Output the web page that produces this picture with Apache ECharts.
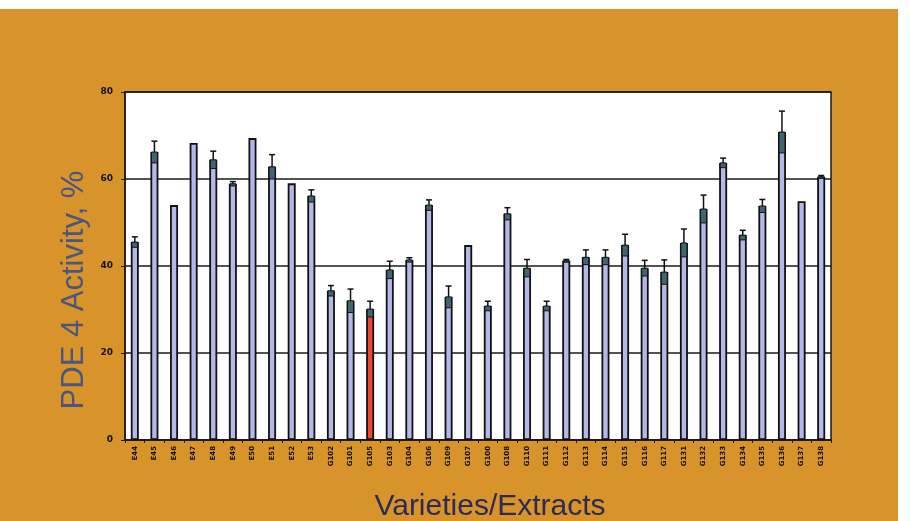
<!DOCTYPE html>
<html>
<head>
<meta charset="utf-8">
<script src="https://cdn.jsdelivr.net/npm/echarts@6/dist/echarts.min.js"></script>
<style>
  html, body { margin: 0; padding: 0; background: #fff; }
  #chart { width: 910px; height: 521px; }
</style>
</head>
<body>
<div id="chart"></div>
<script>
// Data
const varieties = [
    "E44", "E45", "E46", "E47", "E48", "E49", "E50", "E51", "E52", "E53",
    "G102", "G101", "G105", "G103", "G104", "G106", "G109", "G107", "G100", "G108",
    "G110", "G111", "G112", "G113", "G114", "G115", "G116", "G117",
    "G131", "G132", "G133", "G134", "G135", "G136", "G137", "G138"
];
const activity = [
    45.5, 66.2, 54.0, 68.3, 64.4, 58.9, 69.4, 62.8, 59.0, 56.1,
    34.3, 32.0, 30.1, 39.1, 41.4, 54.0, 32.9, 44.8, 30.8, 52.0,
    39.5, 30.8, 41.2, 42.0, 42.0, 44.8, 39.5, 38.6,
    45.3, 53.1, 63.7, 47.1, 53.8, 70.8, 54.9, 60.5
];
const errors = [
    1.2, 2.5, 0, 0, 2.0, 0.5, 0, 2.8, 0, 1.4,
    1.2, 2.7, 1.8, 2.0, 0.5, 1.2, 2.5, 0, 1.1, 1.4,
    2.0, 1.1, 0.3, 1.7, 1.7, 2.5, 1.8, 2.8,
    3.2, 3.2, 1.1, 1.1, 1.5, 4.8, 0, 0.3
];
const highlightIndex = 12;
const yTicks = [0, 20, 40, 60, 80];

const chart = echarts.init(document.getElementById("chart"));

const barData = activity.map(function(v, i) {
    return {
        value: v,
        itemStyle: i === highlightIndex ? { color: "#ec4632" } : undefined
    };
});

const option = {
    backgroundColor: "#ffffff",
    animation: false,
    graphic: [{
        type: "rect",
        z: -10,
        shape: { x: 0, y: 9, width: 898, height: 512 },
        style: { fill: "#d8942a" }
    }],
    grid: {
        left: 125, top: 92, right: 79, bottom: 81,
        outerBoundsMode: "none",
        show: true,
        backgroundColor: "#ffffff",
        borderColor: "#1a1a1a",
        borderWidth: 1.5
    },
    xAxis: {
        type: "category",
        data: varieties,
        name: "Varieties/Extracts",
        nameLocation: "middle",
        nameGap: 52,
        nameTextStyle: {
            fontFamily: "Liberation Sans", fontSize: 30, color: "#2b2b55",
            padding: [0, 0, 0, 24]
        },
        axisLine: { lineStyle: { color: "#1a1a1a", width: 1.5 } },
        axisTick: { show: true, length: 3, lineStyle: { color: "#1a1a1a" } },
        axisLabel: {
            rotate: 90,
            interval: 0,
            margin: 6,
            fontFamily: "DejaVu Sans",
            fontWeight: "bold",
            fontSize: 7,
            color: "#111"
        }
    },
    yAxis: {
        type: "value",
        min: 0,
        max: 80,
        interval: 20,
        name: "PDE 4 Activity, %",
        nameLocation: "middle",
        nameGap: 35,
        nameTextStyle: {
            fontFamily: "Liberation Sans", fontSize: 31, color: "#4a5680",
            padding: [0, 48, 0, 0]
        },
        axisLine: { show: true, lineStyle: { color: "#1a1a1a", width: 1.5 } },
        axisTick: { show: true, length: 4, lineStyle: { color: "#1a1a1a" } },
        axisLabel: {
            margin: 12,
            fontFamily: "DejaVu Sans",
            fontWeight: "bold",
            fontSize: 9,
            color: "#111",
            formatter: function(v) { return yTicks.indexOf(v) >= 0 ? String(v) : ""; }
        },
        splitLine: { show: true, lineStyle: { color: "#1a1a1a", width: 1.5 } }
    },
    series: [{
        name: "activity",
        type: "bar",
        data: barData,
        barWidth: 8,
        itemStyle: {
            color: "#b3b8e8",
            borderColor: "#111",
            borderWidth: 1.8
        }
    }, {
        name: "error",
        type: "custom",
        data: activity.map(function(v, i) { return [i, v, errors[i]]; }),
        renderItem: function(params, api) {
            const idx = api.value(0);
            const val = api.value(1);
            const err = api.value(2);
            if (!err) return null;
            const top = api.coord([idx, val + err]);
            const mid = api.coord([idx, val]);
            const low = api.coord([idx, val - err]);
            const cap = 3;
            return {
                type: "group",
                children: [{
                    type: "rect",
                    shape: { x: mid[0] - 3, y: mid[1], width: 6, height: low[1] - mid[1] },
                    style: { fill: "#3f6670", stroke: "#111", lineWidth: 1 }
                }, {
                    type: "line",
                    shape: { x1: top[0], y1: top[1], x2: mid[0], y2: mid[1] },
                    style: { stroke: "#111", lineWidth: 1.5 }
                }, {
                    type: "line",
                    shape: { x1: top[0] - cap, y1: top[1], x2: top[0] + cap, y2: top[1] },
                    style: { stroke: "#111", lineWidth: 1.5 }
                }]
            };
        },
        z: 3
    }]
};
chart.setOption(option);
</script>
</body>
</html>
